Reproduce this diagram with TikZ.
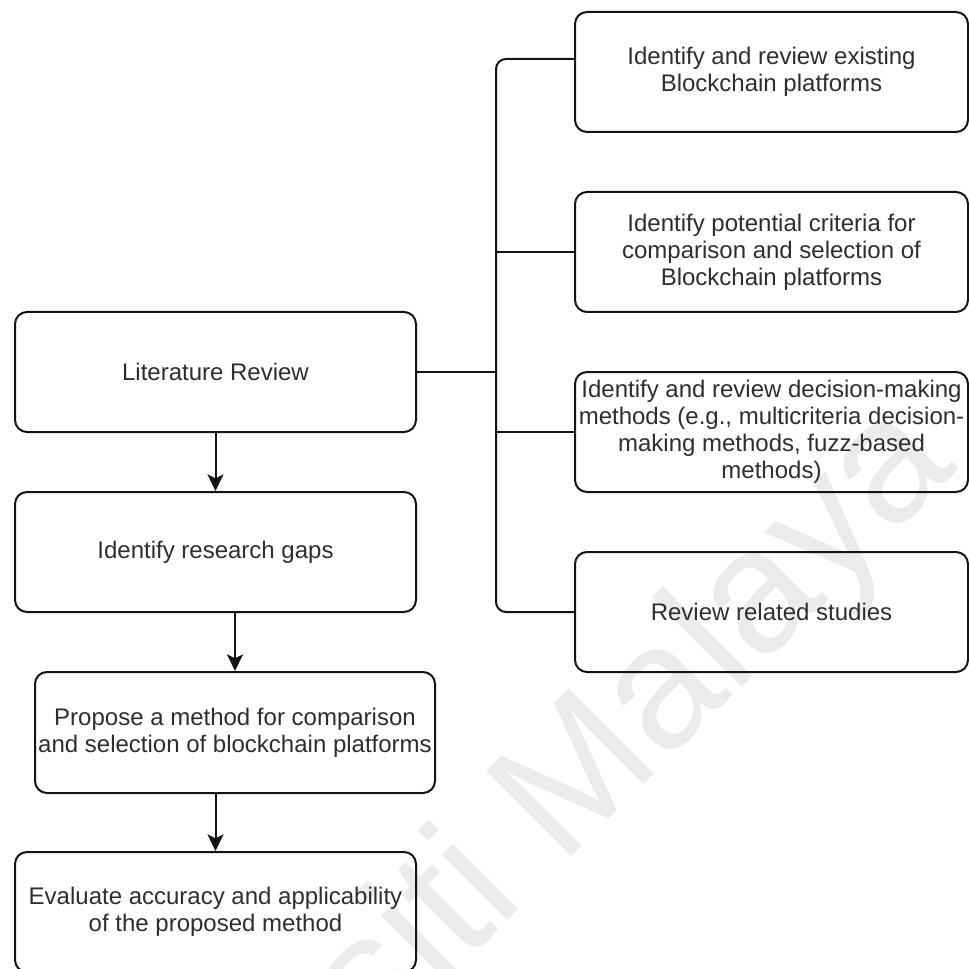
\documentclass[tikz,border=0pt]{standalone}
\usepackage{fontspec}
\setmainfont{Liberation Sans}
\usetikzlibrary{arrows.meta,calc}

\definecolor{inkline}{HTML}{141414}
\definecolor{inktext}{HTML}{2E2E2E}
\definecolor{wmark}{HTML}{EBEBEB}

\tikzset{
  stepbox/.style={draw=inkline, line width=1.5pt, rectangle, rounded corners=9pt,
    inner sep=0pt, align=center, text=inktext,
    font=\fontsize{18pt}{20.25pt}\selectfont},
  leftbox/.style={stepbox, minimum width=300.75pt, minimum height=90pt},
  rightbox/.style={stepbox, minimum width=294.75pt, minimum height=90pt},
  flow/.style={draw=inkline, line width=1.5pt,
    -{Stealth[length=12.5pt, width=12pt, inset=3pt]}},
  branch/.style={draw=inkline, line width=1.5pt},
}

\begin{document}
\begin{tikzpicture}[x=0.75pt, y=-0.75pt]
  \useasboundingbox (0,0) rectangle (969,969);

  % faint background lettering
  \node[text=wmark, rotate=45, anchor=base east, inner sep=0pt,
        font=\fontsize{131pt}{131pt}\selectfont] (wm) at (960,468) {Universiti Malaya};

  % main sequence on the left
  \node[leftbox] (lit)  at (215.5,372) {Literature Review};
  \node[leftbox] (gaps) at (215.5,552) {Identify research gaps};
  \node[stepbox, minimum width=300pt, minimum height=90.75pt] (prop) at (235,732.5)
    {Propose a method for comparison\\and selection of blockchain platforms};
  \node[leftbox] (eval) at (215.5,912)
    {Evaluate accuracy and applicability\\of the proposed method};

  % review activities on the right
  \node[rightbox] (r1) at (771.5,72)  {Identify and review existing\\Blockchain platforms};
  \node[rightbox] (r2) at (771.5,252) {Identify potential criteria for\\comparison and selection of\\Blockchain platforms};
  \node[rightbox] (r3) at (771.5,432) {Identify and review decision-making\\methods (e.g., multicriteria decision-\\making methods, fuzz-based\\methods)};
  \node[rightbox] (r4) at (771.5,612) {Review related studies};

  % vertical flow arrows
  \draw[flow] (lit.south) -- (gaps.north);
  \draw[flow] (gaps.south -| prop.north) -- (prop.north);
  \draw[flow] (prop.south -| eval.north) -- (eval.north);

  % bracket joining the literature review to its activities
  \coordinate (trunk) at (496,0);
  \coordinate (r1in) at ($(r1.west)+(0,-13)$);
  \draw[branch, rounded corners=7.5pt]
    (r1in) -- (r1in -| trunk) -- (r4.west -| trunk) -- (r4.west);
  \draw[branch] (lit.east) -- (lit.east -| trunk);
  \draw[branch] (r2.west -| trunk) -- (r2.west);
  \draw[branch] (r3.west -| trunk) -- (r3.west);
\end{tikzpicture}
\end{document}
